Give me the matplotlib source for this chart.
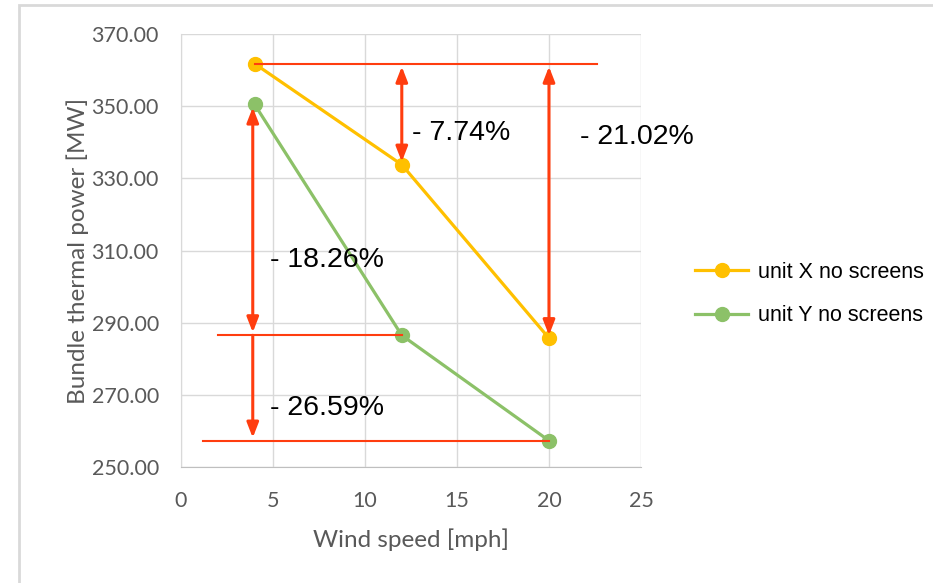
import matplotlib.pyplot as plt
from matplotlib.ticker import FormatStrFormatter
from matplotlib.patches import Rectangle

wind = [4, 12, 20]
unit_x = [361.8, 333.8, 285.7]
unit_y = [350.5, 286.5, 257.3]
drops_x = ['- 7.74%', '- 21.02%']
drops_y = ['- 18.26%', '- 26.59%']

red = '#FF3D0F'
tick_grey = '#595959'

fig = plt.figure(figsize=(9.33, 5.83), dpi=100)
ax = fig.add_axes([0.194, 0.199, 0.493, 0.7425])

# outer chart frame
fig.patches.append(Rectangle((19 / 933, -0.1), 1.2, 1 - 5 / 583 + 0.1,
                             transform=fig.transFigure, fill=False,
                             edgecolor='#D9D9D9', lw=2))

ax.plot(wind, unit_x, '-o', color='#FFC000', lw=2.3, ms=10, label='unit X no screens', zorder=3)
ax.plot(wind, unit_y, '-o', color='#8CC168', lw=2.3, ms=10, label='unit Y no screens', zorder=3)

# reference lines
ax.plot([wind[0], 22.6], [unit_x[0], unit_x[0]], color=red, lw=1.5, zorder=4)
ax.plot([2.0, wind[1]], [unit_y[1], unit_y[1]], color=red, lw=1.5, zorder=4)
ax.plot([1.2, wind[2]], [unit_y[2], unit_y[2]], color=red, lw=1.5, zorder=4)

both = dict(arrowstyle='<|-|>,head_length=0.9,head_width=0.35', color=red, lw=2.2,
            shrinkA=0, shrinkB=0)
down = dict(both, arrowstyle='-|>,head_length=0.9,head_width=0.35')
ax.annotate('', xy=(wind[1], unit_x[1] + 0.8), xytext=(wind[1], unit_x[0] - 0.8), arrowprops=both, zorder=5)
ax.annotate('', xy=(wind[2], unit_x[2] + 0.8), xytext=(wind[2], unit_x[0] - 0.8), arrowprops=both, zorder=5)
ax.annotate('', xy=(wind[0] - 0.1, unit_y[1] + 0.8), xytext=(wind[0] - 0.1, unit_y[0] - 0.8), arrowprops=both, zorder=5)
ax.annotate('', xy=(wind[0] - 0.1, unit_y[2] + 0.8), xytext=(wind[0] - 0.1, unit_y[1]), arrowprops=down, zorder=5)

txt = dict(fontsize=20.5, family='Liberation Sans', color='black', va='center', ha='left')
ax.text(12.55, 342.6, drops_x[0], **txt)
ax.text(21.7, 341.5, drops_x[1], **txt)
ax.text(4.84, 307.4, drops_y[0], **txt)
ax.text(4.84, 266.3, drops_y[1], **txt)

ax.set_xlim(0, 25)
ax.set_ylim(250, 370)
ax.set_xticks(range(0, 26, 5))
ax.set_yticks(range(250, 371, 20))
ax.yaxis.set_major_formatter(FormatStrFormatter('%.2f'))
ax.grid(True, color='#D9D9D9', lw=1)
ax.set_axisbelow(True)
ax.tick_params(length=0, labelsize=15.5, labelcolor=tick_grey)
ax.tick_params(axis='y', pad=16)
ax.tick_params(axis='x', pad=17)
for lbl in ax.get_xticklabels() + ax.get_yticklabels():
    lbl.set_family('Lato')
for s in ['top', 'right']:
    ax.spines[s].set_visible(False)
ax.spines['left'].set_color('#D9D9D9')
ax.spines['bottom'].set_color('#BFBFBF')

ax.set_xlabel('Wind speed [mph]', fontsize=17.5, family='Lato', color=tick_grey, labelpad=13)
ax.set_ylabel('Bundle thermal power [MW]', fontsize=17.5, family='Lato', color=tick_grey, labelpad=2)

ax.legend(loc='center left', bbox_to_anchor=(1.076, 0.40), frameon=False,
          prop={'family': 'Liberation Sans', 'size': 15.5}, handlelength=2.45,
          labelspacing=1.05, handletextpad=0.45)

fig.savefig('out.png', dpi=100)
